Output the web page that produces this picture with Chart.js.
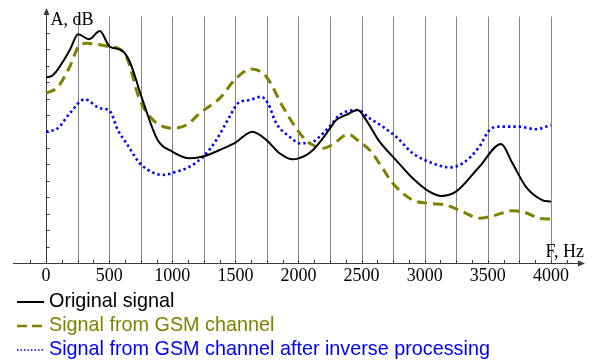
<!DOCTYPE html>
<html>
<head>
<meta charset="utf-8">
<script src="https://cdn.jsdelivr.net/npm/chart.js@4"></script>
<style>
  body { margin: 0; background: #fff; }
</style>
</head>
<body>
<canvas id="spectrum" width="595" height="360"></canvas>
<script>
// frequencies (Hz) and levels (axis units)
let origHz = [0, 56, 188, 254, 341, 426, 505, 597, 663, 756, 884, 1003, 1138, 1257, 1375, 1494, 1634, 1745, 1850, 1955,
    2061, 2114, 2193, 2259, 2299, 2378, 2470, 2536, 2641, 2774, 2905, 3037, 3130, 3248, 3433, 3605, 3694, 3802, 3931, 4000];
let origDb = [11.28, 11.44, 12.96, 13.92, 13.62, 14.12, 13.16, 12.96, 12.25, 10.12, 7.49, 6.77, 6.37, 6.51, 6.88, 7.29, 7.99, 7.49, 6.68, 6.31,
    6.57, 6.88, 7.59, 8.30, 8.70, 9.01, 9.31, 8.70, 7.40, 6.25, 5.16, 4.34, 4.08, 4.34, 5.86, 7.24, 6.09, 4.64, 3.83, 3.73];

let gsmHz = [0, 93, 188, 267, 320, 505, 584, 637, 743, 848, 1006, 1112, 1218, 1375, 1507, 1626, 1745, 1876, 1982, 2061,
    2114, 2193, 2272, 2391, 2483, 2563, 2641, 2747, 2905, 3037, 3169, 3301, 3433, 3538, 3696, 3802, 3908, 4000];
let gsmDb = [10.33, 10.71, 11.95, 13.27, 13.37, 13.16, 13.01, 12.56, 9.92, 8.70, 8.20, 8.40, 9.11, 10.02, 11.24, 11.81, 11.34, 9.51, 8.20, 7.45,
    7.18, 6.98, 7.22, 7.83, 7.38, 6.88, 6.07, 4.85, 3.83, 3.63, 3.53, 3.12, 2.72, 2.86, 3.18, 3.06, 2.72, 2.68];

let invHz = [0, 93, 188, 307, 426, 505, 568, 637, 743, 848, 927, 1033, 1138, 1257, 1349, 1454, 1520, 1613, 1705, 1758,
    1824, 1929, 2008, 2088, 2167, 2246, 2325, 2391, 2470, 2563, 2668, 2784, 2905, 3063, 3195, 3301, 3433, 3513, 3591, 3749, 3882, 4000];
let invDb = [7.99, 8.20, 9.11, 9.96, 9.42, 9.25, 8.10, 7.29, 6.07, 5.50, 5.36, 5.56, 5.86, 6.57, 7.49, 8.90, 9.72, 9.92, 10.12, 9.72,
    8.50, 7.69, 7.29, 7.29, 7.69, 8.30, 9.00, 9.25, 9.31, 8.81, 8.30, 7.61, 6.68, 6.07, 5.82, 6.07, 7.08, 8.09, 8.30, 8.30, 8.14, 8.40];

let seriesNames = ['Original signal', 'Signal from GSM channel', 'Signal from GSM channel after inverse processing'];
let xLabels = [0, 500, 1000, 1500, 2000, 2500, 3000, 3500, 4000];
let gridHz = [250, 500, 750, 1000, 1250, 1500, 1750, 2000, 2250, 2500, 2750, 3000, 3250, 3500, 3750, 4000];
let yTicks = [1, 2, 3, 4, 5, 6, 7, 8, 9, 10, 11, 12, 13, 14];

let toPoints = function(xs, ys) {
    return xs.map(function(x, i) { return {x: x, y: ys[i]}; });
}

let axisColor = '#3a3a3a';

function arrow(ctx, x, y, dir) {
    ctx.beginPath();
    if (dir == 'right') {
        ctx.moveTo(x, y); ctx.lineTo(x - 7, y - 3); ctx.lineTo(x - 7, y + 3);
    } else {
        ctx.moveTo(x, y); ctx.lineTo(x - 3, y + 7); ctx.lineTo(x + 3, y + 7);
    }
    ctx.closePath();
    ctx.fill();
}

let axesPlugin = {
    id: 'axesPlugin',
    beforeDatasetsDraw: function(chart) {
        let ctx = chart.ctx;
        let xs = chart.scales.x, ys = chart.scales.y;
        let area = chart.chartArea;
        let y0 = ys.getPixelForValue(0);
        let x0 = xs.getPixelForValue(0);
        ctx.save();

        // vertical grid
        ctx.strokeStyle = '#858585';
        ctx.lineWidth = 1;
        gridHz.forEach(function(hz) {
            let px = Math.round(xs.getPixelForValue(hz)) + 0.5;
            ctx.beginPath();
            ctx.moveTo(px, y0);
            ctx.lineTo(px, ys.getPixelForValue(15));
            ctx.stroke();
        });

        // x axis
        ctx.strokeStyle = axisColor;
        ctx.fillStyle = axisColor;
        ctx.beginPath();
        ctx.moveTo(area.left, Math.round(y0) + 0.5);
        ctx.lineTo(area.right - 2, Math.round(y0) + 0.5);
        ctx.stroke();
        arrow(ctx, area.right, Math.round(y0) + 0.5, 'right');
        for (let hz = -125; hz <= 4125; hz += 125) {
            let px = Math.round(xs.getPixelForValue(hz)) + 0.5;
            ctx.beginPath();
            ctx.moveTo(px, y0);
            ctx.lineTo(px, y0 - 3);
            ctx.stroke();
        }

        // y axis
        let ax = Math.round(x0) + 0.5;
        ctx.beginPath();
        ctx.moveTo(ax, y0);
        ctx.lineTo(ax, area.top + 2);
        ctx.stroke();
        arrow(ctx, ax, area.top, 'up');
        yTicks.forEach(function(v) {
            let py = Math.round(ys.getPixelForValue(v)) + 0.5;
            ctx.beginPath();
            ctx.moveTo(ax, py);
            ctx.lineTo(ax + 3, py);
            ctx.stroke();
        });

        // labels
        ctx.fillStyle = '#000';
        ctx.font = '18px "Liberation Serif"';
        ctx.textAlign = 'center';
        ctx.textBaseline = 'middle';
        xLabels.forEach(function(hz) {
            ctx.fillText(String(hz), xs.getPixelForValue(hz), y0 + 13);
        });
        ctx.textAlign = 'left';
        ctx.textBaseline = 'alphabetic';
        ctx.fillText('A, dB', ax + 4, area.top + 17);
        ctx.textAlign = 'right';
        ctx.fillText('F, Hz', area.right - 1, y0 - 6);
        ctx.restore();
    },
    afterDraw: function(chart) {
        // legend under the plot, one row per series
        let ctx = chart.ctx;
        ctx.save();
        ctx.font = '19.8px "Liberation Sans"';
        ctx.textBaseline = 'middle';
        ctx.textAlign = 'left';
        chart.data.datasets.forEach(function(ds, i) {
            let y = 302 + i * 24;
            ctx.strokeStyle = ds.borderColor;
            ctx.lineWidth = ds.legendWidth;
            ctx.setLineDash(ds.legendDash);
            ctx.beginPath();
            ctx.moveTo(17, y);
            ctx.lineTo(44, y);
            ctx.stroke();
            ctx.setLineDash([]);
            ctx.fillStyle = ds.borderColor;
            ctx.fillText(ds.label, 49, y);
        });
        ctx.restore();
    }
};

new Chart(document.getElementById('spectrum'), {
    type: 'line',
    data: {
        datasets: [{
            label: seriesNames[0],
            data: toPoints(origHz, origDb),
            borderColor: '#000000',
            borderWidth: 2,
            legendWidth: 2,
            legendDash: [],
        }, {
            label: seriesNames[1],
            data: toPoints(gsmHz, gsmDb),
            borderColor: '#808000',
            borderWidth: 3,
            borderDash: [10, 6],
            legendWidth: 2.5,
            legendDash: [10, 5],
        }, {
            label: seriesNames[2],
            data: toPoints(invHz, invDb),
            borderColor: '#0000ff',
            borderWidth: 2.6,
            borderDash: [2.4, 3],
            legendWidth: 1.5,
            legendDash: [1.5, 2],
        }]
    },
    options: {
        responsive: false,
        animation: false,
        layout: { padding: { left: 13, right: 10, top: 8, bottom: 97 } },
        elements: {
            point: { radius: 0 },
            line: { cubicInterpolationMode: 'monotone', fill: false }
        },
        scales: {
            x: { type: 'linear', min: -262, max: 4270, display: false },
            y: { type: 'linear', min: 0, max: 15.52, display: false }
        },
        plugins: {
            legend: { display: false },
            tooltip: { enabled: false }
        }
    },
    plugins: [axesPlugin]
});
</script>
</body>
</html>
